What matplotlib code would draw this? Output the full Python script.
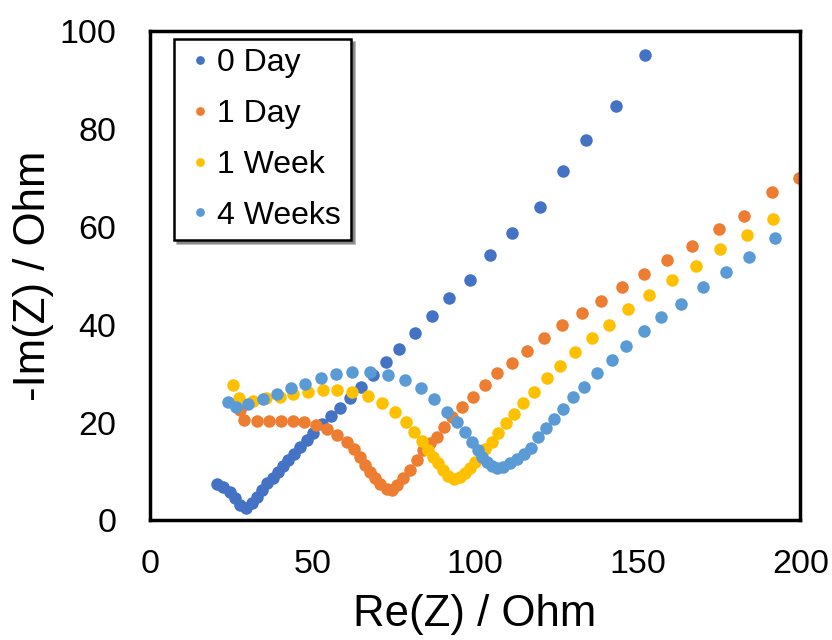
import matplotlib.pyplot as plt

plt.rcParams['font.family'] = ['Liberation Sans', 'DejaVu Sans']

# -- data (Nyquist plots) -----------------------------------------------------
day0_re = [20.6, 22.5, 24.6, 26.2, 27.7, 29.5, 31.4, 32.9, 34.5, 36.0, 37.8,
           39.4, 40.9, 42.5, 44.3, 46.2, 48.3, 50.2, 52.9, 55.7, 58.5, 61.5,
           64.9, 68.6, 72.6, 76.6, 81.5, 86.8, 92.0, 98.5, 104.6, 111.4,
           120.0, 127.0, 134.2, 143.4, 152.3]
day0_im = [7.4, 6.8, 5.7, 4.5, 3.1, 2.5, 3.5, 4.7, 6.1, 7.6, 8.6,
           9.8, 11.1, 12.3, 13.5, 15.0, 16.4, 17.8, 19.7, 21.3, 23.0, 25.0,
           27.3, 29.7, 32.4, 35.0, 38.3, 41.8, 45.5, 49.2, 54.3, 58.8,
           64.1, 71.5, 77.7, 84.8, 95.1]

day1_re = [27.7, 28.9, 32.9, 36.6, 40.3, 44.0, 47.4, 51.1, 54.5, 57.5, 60.6,
           62.8, 64.6, 66.2, 67.7, 69.2, 70.8, 72.9, 74.5, 76.0, 77.8, 80.0,
           82.2, 84.0, 86.2, 88.3, 90.5, 92.9, 96.0, 99.4, 103.1, 106.8,
           111.4, 116.0, 121.2, 126.8, 132.9, 138.8, 145.2, 152.0, 159.1,
           166.8, 175.1, 182.8, 191.4, 199.7]
day1_im = [22.5, 20.5, 20.3, 20.3, 20.3, 20.3, 20.1, 19.5, 18.6, 17.4, 16.0,
           14.5, 12.9, 11.3, 9.8, 8.6, 7.4, 6.4, 6.2, 7.2, 8.6, 10.2,
           12.3, 14.3, 15.8, 17.0, 19.1, 21.1, 23.2, 25.2, 27.7, 30.1,
           32.2, 34.6, 37.3, 40.0, 42.4, 44.9, 47.7, 50.4, 53.3,
           56.1, 59.6, 62.3, 67.2, 70.1]

week1_re = [25.5, 27.4, 31.7, 35.7, 40.0, 44.0, 48.6, 53.2, 57.5, 62.2, 67.1,
            71.4, 75.4, 78.8, 81.2, 83.7, 85.5, 87.1, 88.6, 90.2, 91.7, 93.5,
            95.4, 96.9, 98.5, 100.0, 103.1, 105.2, 107.1, 109.5, 112.0, 114.8,
            118.2, 122.2, 126.2, 130.8, 136.0, 141.2, 147.1, 153.5, 160.6,
            168.0, 175.4, 183.7, 191.7]
week1_im = [27.7, 25.0, 24.4, 25.0, 25.2, 25.8, 26.2, 26.6, 26.6, 26.2, 25.4,
            24.0, 22.1, 20.1, 18.0, 16.2, 14.3, 12.9, 11.7, 10.2, 9.0, 8.4,
            8.8, 9.6, 10.7, 11.9, 14.5, 16.0, 17.8, 19.9, 21.7, 24.0,
            26.2, 29.1, 31.6, 34.4, 37.3, 40.0, 43.2, 46.1, 49.2,
            52.0, 55.5, 58.4, 61.7]

week4_re = [24.0, 26.5, 30.2, 34.8, 39.1, 43.4, 47.7, 52.6, 57.2, 62.2, 67.7,
            73.2, 78.5, 83.4, 87.4, 91.4, 94.5, 96.9, 99.1, 100.9, 102.2,
            103.7, 105.2, 106.8, 108.6, 110.8, 112.9, 115.1, 117.2, 119.4,
            121.8, 124.3, 127.1, 130.2, 133.5, 137.5, 142.2, 146.5, 152.0,
            157.2, 163.4, 170.2, 177.2, 184.3, 192.3]
week4_im = [24.2, 23.2, 23.8, 24.8, 25.8, 27.0, 27.9, 29.1, 29.9, 30.3, 30.3,
            29.7, 28.7, 27.0, 24.8, 22.1, 20.1, 18.0, 16.0, 14.3, 12.9,
            11.9, 11.1, 10.7, 10.9, 11.7, 12.5, 13.5, 14.8, 17.0,
            18.9, 20.7, 22.7, 25.2, 27.3, 30.1, 32.8, 35.7, 38.7,
            41.6, 44.3, 47.7, 50.8, 53.9, 57.8]

series = [
    ('0 Day', day0_re, day0_im, '#4472C4'),
    ('1 Day', day1_re, day1_im, '#ED7D31'),
    ('1 Week', week1_re, week1_im, '#FFC000'),
    ('4 Weeks', week4_re, week4_im, '#5B9BD5'),
]

fig = plt.figure(figsize=(8.32, 6.4), dpi=100)
ax = fig.add_axes([0.180, 0.187, 0.782, 0.764])

for label, xs, ys, color in series:
    ax.plot(xs, ys, 'o', color=color, markersize=9, markeredgewidth=0,
            label=label)

ax.set_xlim(0, 200)
ax.set_ylim(0, 100)
ax.set_xticks([0, 50, 100, 150, 200])
ax.set_yticks([0, 20, 40, 60, 80, 100])
ax.tick_params(length=0, labelsize=24.5)
ax.tick_params(axis='x', pad=21)
ax.tick_params(axis='y', pad=24)
for s in ax.spines.values():
    s.set_linewidth(2.5)
    s.set_color('black')

ax.set_xlabel('Re(Z) / Ohm', fontsize=31.5, labelpad=10)
ax.set_ylabel('-Im(Z) / Ohm', fontsize=31.5, labelpad=4)

leg = ax.legend(loc='upper left', bbox_to_anchor=(0.028, 0.998), fontsize=23,
                frameon=True, fancybox=False, shadow=True, markerscale=0.7,
                handletextpad=0.05, handlelength=1.0, labelspacing=0.65,
                borderpad=0.3, borderaxespad=0.2)
leg.get_frame().set_edgecolor('black')
leg.get_frame().set_linewidth(1.8)

fig.savefig('out.png', dpi=100)
plt.close(fig)
